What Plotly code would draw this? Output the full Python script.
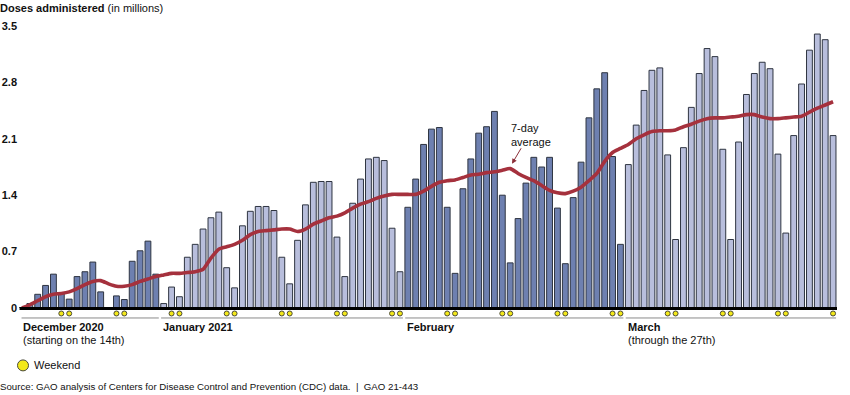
import pandas as pd
import plotly.graph_objects as go

# ---------------- data (millions of doses per day) ----------------
start_date = "2020-12-14"
end_date = "2021-03-27"

dec_doses = [0.0, 0.055, 0.17, 0.28, 0.42, 0.19, 0.11, 0.39, 0.45, 0.57, 0.20, 0.0,
             0.15, 0.105, 0.58, 0.71, 0.83, 0.42]
jan_doses = [0.055, 0.26, 0.14, 0.63, 0.79, 0.98, 1.12, 1.19, 0.50, 0.25, 1.02, 1.20,
             1.26, 1.26, 1.21, 0.63, 0.30, 0.84, 1.28, 1.56, 1.57, 1.57, 0.88, 0.39,
             1.30, 1.60, 1.85, 1.87, 1.83, 0.99, 0.45]
feb_doses = [1.25, 1.60, 2.03, 2.22, 2.24, 1.25, 0.43, 1.48, 1.85, 2.17, 2.25, 2.44,
             1.40, 0.56, 1.11, 1.55, 1.87, 1.75, 1.87, 1.24, 0.55, 1.37, 1.81, 2.36,
             2.72, 2.92, 1.88, 0.79]
mar_doses = [1.78, 2.27, 2.70, 2.95, 2.98, 1.90, 0.85, 1.99, 2.49, 2.91, 3.22, 3.12,
             1.97, 0.85, 2.06, 2.65, 2.91, 3.05, 2.97, 1.91, 0.93, 2.14, 2.78, 3.20,
             3.40, 3.33, 2.14]

avg7 = [0.00, 0.04, 0.09, 0.14, 0.17, 0.18, 0.20, 0.24, 0.29, 0.33, 0.34, 0.30,
        0.27, 0.27, 0.29, 0.33, 0.36, 0.39, 0.41, 0.43, 0.43, 0.44, 0.45, 0.48,
        0.62, 0.73, 0.76, 0.79, 0.84, 0.91, 0.95, 0.96, 0.97, 0.98, 0.98, 0.95,
        0.98, 1.04, 1.08, 1.12, 1.14, 1.18, 1.24, 1.29, 1.32, 1.36, 1.39, 1.41,
        1.41, 1.41, 1.41, 1.45, 1.51, 1.56, 1.58, 1.59, 1.62, 1.65, 1.66, 1.68,
        1.69, 1.71, 1.73, 1.67, 1.62, 1.58, 1.52, 1.46, 1.43, 1.42, 1.45, 1.50,
        1.58, 1.67, 1.82, 1.93, 1.98, 2.03, 2.10, 2.15, 2.19, 2.20, 2.20, 2.21,
        2.25, 2.28, 2.32, 2.35, 2.36, 2.36, 2.37, 2.38, 2.40, 2.40, 2.37, 2.35,
        2.35, 2.36, 2.37, 2.38, 2.43, 2.48, 2.52, 2.56]

y_ticks = [0, 0.7, 1.4, 2.1, 2.8, 3.5]
y_tick_labels = ["0", "0.7", "1.4", "2.1", "2.8", "3.5"]

month_titles = ["December 2020", "January 2021", "February", "March"]
month_notes = ["(starting on the 14th)", "", "", "(through the 27th)"]

# ---------------- styling ----------------
DARK = "#6e80b0"
LIGHT = "#b8bedc"
OUTLINE = "#2e3440"
LINE_RED = "#a5313d"
YELLOW = "#f3e819"
DOT_EDGE = "#4a4a3a"
FONT = "Liberation Sans, Arial, sans-serif"

W, H = 850, 395
L, R, T, B = 18, 13, 26, 86.5
PW, PH = W - L - R, H - T - B


def px(xp):
    return (xp - L) / PW


def py(yp):
    return (H - B - yp) / PH


dates = pd.date_range(start_date, end_date, freq="D")
doses = dec_doses + jan_doses + feb_doses + mar_doses
idx = list(range(len(dates)))
month_sizes = [len(dec_doses), len(jan_doses), len(feb_doses), len(mar_doses)]
month_colors = [DARK, LIGHT, DARK, LIGHT]
bar_colors = []
for size, col in zip(month_sizes, month_colors):
    bar_colors += [col] * size

weekend_idx = [i for i, d in enumerate(dates) if d.dayofweek >= 5]

fig = go.Figure()
fig.add_trace(go.Bar(
    x=idx, y=doses, width=0.74,
    marker=dict(color=bar_colors, line=dict(color=OUTLINE, width=1)),
    hoverinfo="skip", showlegend=False,
))
fig.add_trace(go.Scatter(
    x=idx, y=avg7, mode="lines",
    line=dict(color=LINE_RED, width=3.6, shape="spline", smoothing=0.6),
    hoverinfo="skip", showlegend=False,
))

shapes = []
# baseline
shapes.append(dict(type="line", xref="x", yref="paper", x0=-0.3, x1=103.5,
                   y0=py(309), y1=py(309), line=dict(color="black", width=3.2), layer="above"))
# weekend dots (positioned on the day axis)
for i in weekend_idx:
    shapes.append(dict(type="circle", xref="x", yref="paper",
                       xsizemode="pixel", ysizemode="pixel",
                       xanchor=i, yanchor=py(314), x0=-2.5, x1=2.5, y0=-2.5, y1=2.5,
                       fillcolor=YELLOW, line=dict(color=DOT_EDGE, width=1)))
# month separator lines and labels
annotations = []
pos = 0
for k, size in enumerate(month_sizes):
    first, last = pos, pos + size - 1
    x0 = first - 0.05 if k == 0 else first - 0.33
    shapes.append(dict(type="line", xref="x", yref="paper", x0=x0, x1=last + 0.38,
                       y0=py(318.5), y1=py(318.5), line=dict(color="#8a8a8a", width=1)))
    lx = first - 0.1 if k == 0 else first - 0.3
    annotations.append(dict(xref="x", yref="paper", x=lx, y=py(327.5), xanchor="left",
                            yanchor="middle", showarrow=False,
                            text="<b>%s</b>" % month_titles[k],
                            font=dict(family=FONT, size=11, color="#111")))
    if month_notes[k]:
        annotations.append(dict(xref="x", yref="paper", x=lx, y=py(341), xanchor="left",
                                yanchor="middle", showarrow=False, text=month_notes[k],
                                font=dict(family=FONT, size=11, color="#111")))
    pos += size

# legend circle
shapes.append(dict(type="circle", xref="paper", yref="paper",
                   x0=px(17.5), x1=px(28.5), y0=py(360.5), y1=py(371.5),
                   fillcolor=YELLOW, line=dict(color=DOT_EDGE, width=1)))
annotations.append(dict(xref="paper", yref="paper", x=px(32), y=py(366), xanchor="left",
                        yanchor="middle", showarrow=False, text="Weekend",
                        font=dict(family=FONT, size=11, color="#111")))
# title
annotations.append(dict(xref="paper", yref="paper", x=px(-2), y=py(8), xanchor="left",
                        yanchor="middle", showarrow=False,
                        text="<b>Doses administered</b> (in millions)",
                        font=dict(family=FONT, size=11, color="#111")))
# source
annotations.append(dict(xref="paper", yref="paper", x=px(-2), y=py(387.5), xanchor="left",
                        yanchor="middle", showarrow=False,
                        text="Source: GAO analysis of Centers for Disease Control and Prevention (CDC) data.  |  GAO 21-443",
                        font=dict(family=FONT, size=9.7, color="#111")))
# 7-day average label + arrow
annotations.append(dict(xref="paper", yref="paper", x=px(509), y=py(135), xanchor="left",
                        yanchor="middle", align="left", showarrow=False,
                        text="7-day<br>average",
                        font=dict(family=FONT, size=11, color="#111")))
annotations.append(dict(xref="paper", yref="paper", x=px(512), y=py(164), ax=10, ay=-17,
                        text="", showarrow=True, arrowhead=2, arrowsize=1, arrowwidth=1,
                        arrowcolor="#8b2e38"))

fig.update_layout(
    width=W, height=H,
    margin=dict(l=L, r=R, t=T, b=B, pad=0, autoexpand=False),
    paper_bgcolor="white", plot_bgcolor="white",
    bargap=0.2,
    xaxis=dict(range=[-0.5, 103.5], showticklabels=False, showgrid=False,
               zeroline=False, showline=False, ticks="", automargin=False),
    yaxis=dict(range=[0, 3.5], tickvals=y_ticks, ticktext=y_tick_labels,
               showgrid=False, zeroline=False, showline=False, ticks="", automargin=False,
               tickfont=dict(family=FONT, size=11, color="#111", weight="bold")),
    shapes=shapes, annotations=annotations,
    showlegend=False,
)

fig.write_html("out.html", config={"displayModeBar": False},
               post_script="document.body.style.margin='0';document.body.style.overflow='hidden';")
